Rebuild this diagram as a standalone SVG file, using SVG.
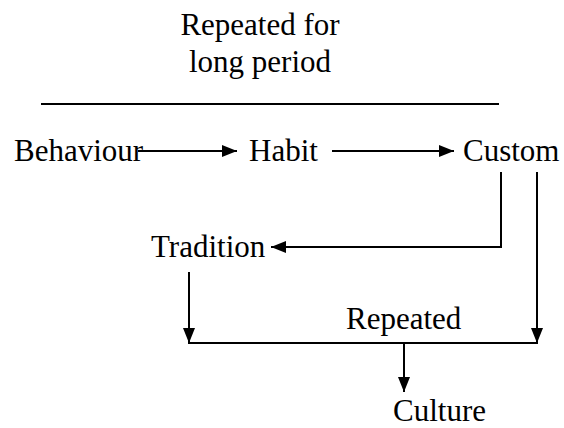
<svg xmlns="http://www.w3.org/2000/svg" width="564" height="428" viewBox="0 0 564 428">
  <defs>
    <marker id="arrow" markerUnits="userSpaceOnUse" markerWidth="16" markerHeight="13" refX="15" refY="6" orient="auto">
      <path d="M0,0 L15,6 L0,12 z" fill="#000"/>
    </marker>
  </defs>
  <rect width="564" height="428" fill="#fff"/>

  <g font-family="Liberation Serif, Times New Roman, serif" font-size="31" fill="#000">
    <!-- heading above the rule -->
    <g id="heading">
      <text x="260" y="35" text-anchor="middle">Repeated for</text>
      <text x="260" y="72" text-anchor="middle">long period</text>
      <line x1="41" y1="104" x2="499" y2="104" stroke="#000" stroke-width="2"/>
    </g>

    <g id="behaviour"><text x="14" y="161">Behaviour</text></g>
    <g id="habit"><text x="249" y="161">Habit</text></g>
    <g id="custom"><text x="463" y="161">Custom</text></g>
    <g id="tradition"><text x="151" y="257">Tradition</text></g>
    <g id="repeated"><text x="346" y="329">Repeated</text></g>
    <g id="culture"><text x="393" y="421">Culture</text></g>
  </g>

  <g id="connectors" stroke="#000" stroke-width="2" fill="none">
    <line x1="138" y1="151" x2="237" y2="151" marker-end="url(#arrow)"/>
    <line x1="332" y1="151" x2="454" y2="151" marker-end="url(#arrow)"/>
    <polyline points="501,172 501,247 271,247" marker-end="url(#arrow)"/>
    <line x1="537" y1="172" x2="537" y2="343" marker-end="url(#arrow)"/>
    <line x1="189" y1="272" x2="189" y2="343" marker-end="url(#arrow)"/>
    <line x1="188" y1="343" x2="538" y2="343"/>
    <line x1="404" y1="343" x2="404" y2="392" marker-end="url(#arrow)"/>
  </g>
</svg>
